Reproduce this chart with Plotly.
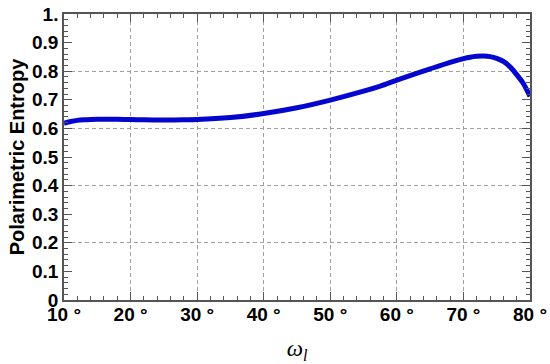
import plotly.graph_objects as go

# curve
omega_l = [10, 11, 12, 13, 14, 16, 18, 20, 22, 25, 28, 30, 35, 40, 45, 50, 55, 57.5, 60, 65,
           68, 70, 71, 72, 73, 74, 75, 76, 77, 78, 79, 80]
entropy = [0.618, 0.624, 0.628, 0.630, 0.631, 0.632, 0.632, 0.631, 0.630, 0.629, 0.630, 0.631,
           0.638, 0.652, 0.672, 0.699, 0.730, 0.748, 0.769, 0.808, 0.831, 0.844, 0.849, 0.852,
           0.853, 0.851, 0.845, 0.834, 0.815, 0.788, 0.757, 0.712]

x_ticks = [10, 20, 30, 40, 50, 60, 70, 80]
x_labels = [f"{v} °" for v in x_ticks]
y_ticks = [0, 0.1, 0.2, 0.3, 0.4, 0.5, 0.6, 0.7, 0.8, 0.9, 1.0]
y_labels = ["0", "0.1", "0.2", "0.3", "0.4", "0.5", "0.6", "0.7", "0.8", "0.9", "1."]

tick_font = dict(family="Liberation Sans, Arial", size=19, color="black", weight="bold")
frame = "#555555"
grid = "#a0a0a0"

fig = go.Figure()
fig.add_trace(go.Scatter(x=omega_l, y=entropy, mode="lines",
                         line=dict(color="#0505d0", width=5, shape="spline", smoothing=0.6),
                         showlegend=False))
# invisible copy so the 0.2-step grid axis gets drawn
fig.add_trace(go.Scatter(x=omega_l, y=entropy, yaxis="y2", mode="lines",
                         line=dict(width=0), hoverinfo="skip", showlegend=False))

fig.update_layout(
    width=550, height=364,
    margin=dict(l=63.5, r=20, t=14, b=63.5),
    plot_bgcolor="white", paper_bgcolor="white",
    xaxis=dict(range=[10, 80], tickvals=x_ticks, ticktext=x_labels, automargin=False,
               ticks="inside", ticklen=8, tickcolor=frame, tickwidth=1,
               showline=True, linecolor=frame, linewidth=1.5, mirror="ticks",
               showgrid=True, gridcolor=grid, griddash="4px,3px", gridwidth=1,
               minor=dict(dtick=2, ticks="inside", ticklen=4, tickcolor=frame, showgrid=False),
               tickfont=tick_font, zeroline=False, ticklabelstandoff=-4,
               title=dict(text="<i>ω<sub>l</sub></i>",
                          font=dict(family="Liberation Serif, Times New Roman", size=23, color="black"),
                          standoff=18)),
    yaxis=dict(range=[0, 1], tickvals=y_ticks, ticktext=y_labels, automargin=False,
               ticks="inside", ticklen=8, tickcolor=frame, tickwidth=1,
               showline=True, linecolor=frame, linewidth=1.5, mirror="ticks",
               showgrid=False, zeroline=False,
               minor=dict(dtick=0.02, ticks="inside", ticklen=4, tickcolor=frame, showgrid=False),
               tickfont=tick_font,
               title=dict(text="Polarimetric Entropy",
                          font=dict(family="Liberation Sans, Arial", size=20, color="black", weight="bold"),
                          standoff=2)),
    yaxis2=dict(range=[0, 1], overlaying="y", dtick=0.2, showticklabels=False, ticks="",
                showgrid=True, gridcolor=grid, griddash="4px,3px", gridwidth=1,
                zeroline=False, showline=False, automargin=False),
)

# drop the default 8px page margin so the figure fills the window
fig.write_html("out.html", config={"displayModeBar": False},
               post_script="document.body.style.margin='0px';")
